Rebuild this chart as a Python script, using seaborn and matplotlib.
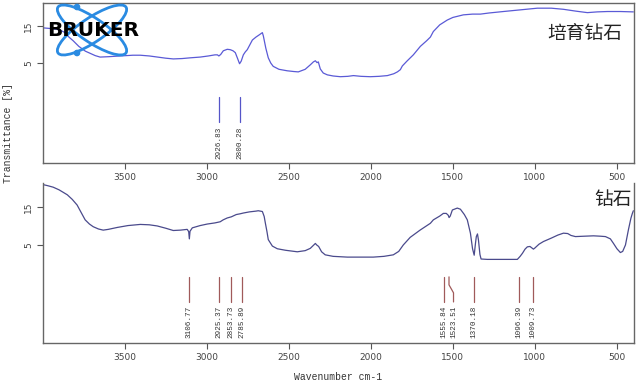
import matplotlib
matplotlib.use('Agg')
import matplotlib.pyplot as plt
from matplotlib.patches import Ellipse, Circle
import seaborn as sns
import pandas as pd

# spectrum 1: lab-grown diamond (top)
top_wn = [4000, 3950, 3900, 3863, 3840, 3814, 3780, 3740, 3710, 3680, 3650, 3600,
          3527, 3450, 3405, 3350, 3300, 3250, 3204, 3150, 3100, 3040, 2990, 2950,
          2935, 2926, 2915, 2899, 2875, 2857, 2840, 2826, 2812, 2800, 2790, 2777,
          2765, 2753, 2722, 2700, 2680, 2661, 2655, 2640, 2625, 2610, 2595, 2560,
          2510, 2470, 2442, 2400, 2369, 2350, 2338, 2328, 2320, 2308, 2290, 2265,
          2230, 2186, 2140, 2106, 2060, 2003, 1950, 1899, 1860, 1838, 1820, 1808,
          1780, 1741, 1698, 1660, 1637, 1619, 1580, 1534, 1500, 1436, 1380, 1332,
          1280, 1192, 1100, 985, 900, 826, 750, 680, 620, 558, 480, 400]
top_t = [14.5, 14.3, 14.0, 13.2, 12.0, 11.0, 9.5, 8.2, 7.6, 7.0, 6.6, 6.7,
         6.9, 7.1, 7.1, 6.9, 6.6, 6.3, 6.1, 6.2, 6.4, 6.6, 6.9, 7.2,
         7.2, 6.9, 7.3, 8.3, 8.7, 8.6, 8.3, 7.8, 6.2, 4.8, 5.5, 7.2,
         8.0, 8.6, 11.2, 12.0, 12.6, 13.2, 12.3, 9.0, 6.4, 5.0, 4.1, 3.3,
         2.9, 2.7, 2.6, 3.3, 4.5, 5.3, 5.6, 5.1, 5.3, 3.4, 2.3, 1.8,
         1.5, 1.3, 1.4, 1.6, 1.4, 1.3, 1.4, 1.6, 2.1, 2.6, 3.2, 4.2,
         5.5, 7.2, 9.5, 11.0, 12.0, 13.5, 15.3, 16.6, 17.3, 18.0, 18.2, 18.2,
         18.5, 18.9, 19.3, 19.8, 19.8, 19.5, 19.0, 18.6, 18.8, 18.9, 18.9, 18.8]
top_peaks = [2926.83, 2800.28]

# spectrum 2: natural diamond (bottom)
bot_wn = [4000, 3970, 3936, 3900, 3850, 3820, 3790, 3765, 3741, 3715, 3692, 3660,
          3631, 3600, 3546, 3480, 3405, 3350, 3302, 3250, 3204, 3160, 3119, 3110,
          3106, 3102, 3088, 3040, 2997, 2950, 2918, 2900, 2875, 2850, 2820, 2796,
          2777, 2740, 2700, 2686, 2661, 2650, 2643, 2633, 2625, 2600, 2570, 2520,
          2448, 2400, 2369, 2345, 2338, 2330, 2318, 2300, 2278, 2230, 2143, 2060,
          1985, 1920, 1863, 1830, 1802, 1760, 1700, 1637, 1619, 1580, 1558, 1540,
          1528, 1523, 1516, 1503, 1473, 1454, 1430, 1412, 1393, 1380, 1370, 1362,
          1357, 1350, 1344, 1335, 1328, 1290, 1200, 1107, 1090, 1076, 1060, 1046,
          1030, 1015, 1009, 1000, 975, 948, 900, 860, 826, 800, 780, 753,
          700, 643, 600, 570, 540, 521, 500, 479, 465, 448, 430, 415, 406, 400]
bot_t = [20.9, 20.6, 20.2, 19.5, 18.2, 17.0, 15.5, 13.5, 11.6, 10.5, 9.8, 9.2,
         8.9, 9.1, 9.6, 10.1, 10.4, 10.3, 10.0, 9.4, 8.8, 8.9, 9.1, 8.5,
         6.6, 8.6, 9.5, 10.1, 10.5, 10.8, 11.1, 11.6, 12.1, 12.4, 13.0, 13.2,
         13.4, 13.7, 13.9, 14.0, 13.8, 12.5, 10.8, 8.5, 6.4, 4.7, 4.0, 3.6,
         3.2, 3.5, 4.1, 5.1, 5.4, 5.0, 4.6, 3.2, 2.4, 2.0, 1.8, 1.8,
         1.8, 2.0, 2.4, 3.3, 5.0, 7.0, 8.9, 10.7, 11.6, 12.6, 13.3, 13.3,
         12.8, 12.2, 12.6, 14.2, 14.7, 14.4, 13.0, 11.6, 8.1, 4.0, 2.3, 5.5,
         7.2, 7.9, 6.3, 2.5, 1.3, 1.2, 1.2, 1.2, 2.0, 2.8, 3.9, 4.5,
         4.6, 4.1, 3.9, 4.2, 5.2, 5.9, 6.8, 7.6, 8.1, 8.0, 7.5, 7.2,
         7.3, 7.4, 7.3, 7.2, 6.6, 5.4, 4.0, 3.0, 3.3, 5.0, 9.0, 12.0, 13.3, 14.0]
bot_peaks = [3106.77, 2925.37, 2853.73, 2785.89, 1555.84, 1523.51, 1370.18, 1096.39, 1009.73]
# label position where it has to be pushed aside
label_shift = {1523.51: 1496}

x_ticks = [3500, 3000, 2500, 2000, 1500, 1000, 500]
y_ticks = [5, 15]

sns.set_theme(style='white')
plt.rcParams['font.family'] = ['DejaVu Sans']

W, H = 640, 382
fig = plt.figure(figsize=(6.4, 3.82), dpi=100)


def px_box(x0, y0, x1, y1):
    return [x0 / W, 1 - y1 / H, (x1 - x0) / W, (y1 - y0) / H]


ax1 = fig.add_axes(px_box(43, 3, 634, 163))
ax2 = fig.add_axes(px_box(43, 183, 634, 343))


def style_axis(ax, ylim, top_spine):
    ax.set_xlim(3998, 396)
    ax.set_ylim(*ylim)
    ax.set_xticks(x_ticks)
    ax.set_yticks(y_ticks)
    ax.tick_params(axis='both', which='both', direction='out', length=4, width=0.8,
                   color='#555555', labelsize=6.5, labelcolor='#444444',
                   bottom=True, left=True, pad=3)
    for lbl in ax.get_yticklabels():
        lbl.set_rotation(90)
        lbl.set_va('center')
    for name, sp in ax.spines.items():
        sp.set_color('#666666')
        sp.set_linewidth(1.0)
    ax.spines['top'].set_visible(top_spine)
    ax.set_xlabel('')
    ax.set_ylabel('')
    ax.grid(False)


def draw_peaks(ax, peaks, color, y_top, y_bot):
    for p in peaks:
        lx = label_shift.get(p, p)
        if lx != p:
            ax.plot([p, p, lx, lx], [y_top, y_top - 2.1, y_top - 4.2, y_bot],
                    color=color, lw=0.9)
        else:
            ax.plot([p, p], [y_top, y_bot], color=color, lw=0.9)
        ax.annotate(f'{p:.2f}', xy=(lx, y_bot), xytext=(0, -3),
                    textcoords='offset points', rotation=90, ha='center', va='top',
                    fontsize=5.5, family='Liberation Mono', color='#333333')


sns.lineplot(x=top_wn, y=top_t, ax=ax1, color='#5a5ad6', linewidth=0.9,
             estimator=None)
sns.lineplot(x=bot_wn, y=bot_t, ax=ax2, color='#4a4a8c', linewidth=0.9,
             estimator=None)

style_axis(ax1, (-22, 21.2), True)
style_axis(ax2, (-20.8, 21.3), False)

draw_peaks(ax1, top_peaks, '#5555c8', -4.2, -11.0)
draw_peaks(ax2, bot_peaks, '#a05a5a', -3.4, -10.0)

ax1.text(622 / W, 1 - 34 / H, '培育钻石', transform=fig.transFigure, ha='right',
         va='center', fontsize=13.5, color='#222222',
         family=['Noto Sans CJK SC', 'DejaVu Sans'])
ax2.text(632 / W, 1 - 200 / H, '钻石', transform=fig.transFigure, ha='right',
         va='center', fontsize=13.5, color='#222222',
         family=['Noto Sans CJK SC', 'DejaVu Sans'])

fig.text(8 / W, 1 - 133 / H, 'Transmittance [%]', rotation=90, ha='center',
         va='center', fontsize=7, family='Liberation Mono', color='#333333')
fig.text(338 / W, 1 - 377 / H, 'Wavenumber cm-1', ha='center', va='center',
         fontsize=7, family='Liberation Mono', color='#333333')

# Bruker logo drawn in pixel coordinates
lg = fig.add_axes(px_box(50, 0, 145, 60))
lg.set_xlim(50, 145)
lg.set_ylim(60, 0)
lg.axis('off')
lg.patch.set_alpha(0)
blue = '#2a8be2'
for ang in (34, -34):
    lg.add_patch(Ellipse((92, 30), 82, 24, angle=ang, fill=False,
                         edgecolor=blue, linewidth=2.0))
for cy in (7, 53):
    lg.add_patch(Circle((77, cy), 2.6, color=blue))
lg.text(93, 30, 'BRUKER', ha='center', va='center', fontsize=14.5,
        fontweight='heavy', color='black', family='DejaVu Sans')

fig.savefig('out.png', dpi=100)
plt.close(fig)
